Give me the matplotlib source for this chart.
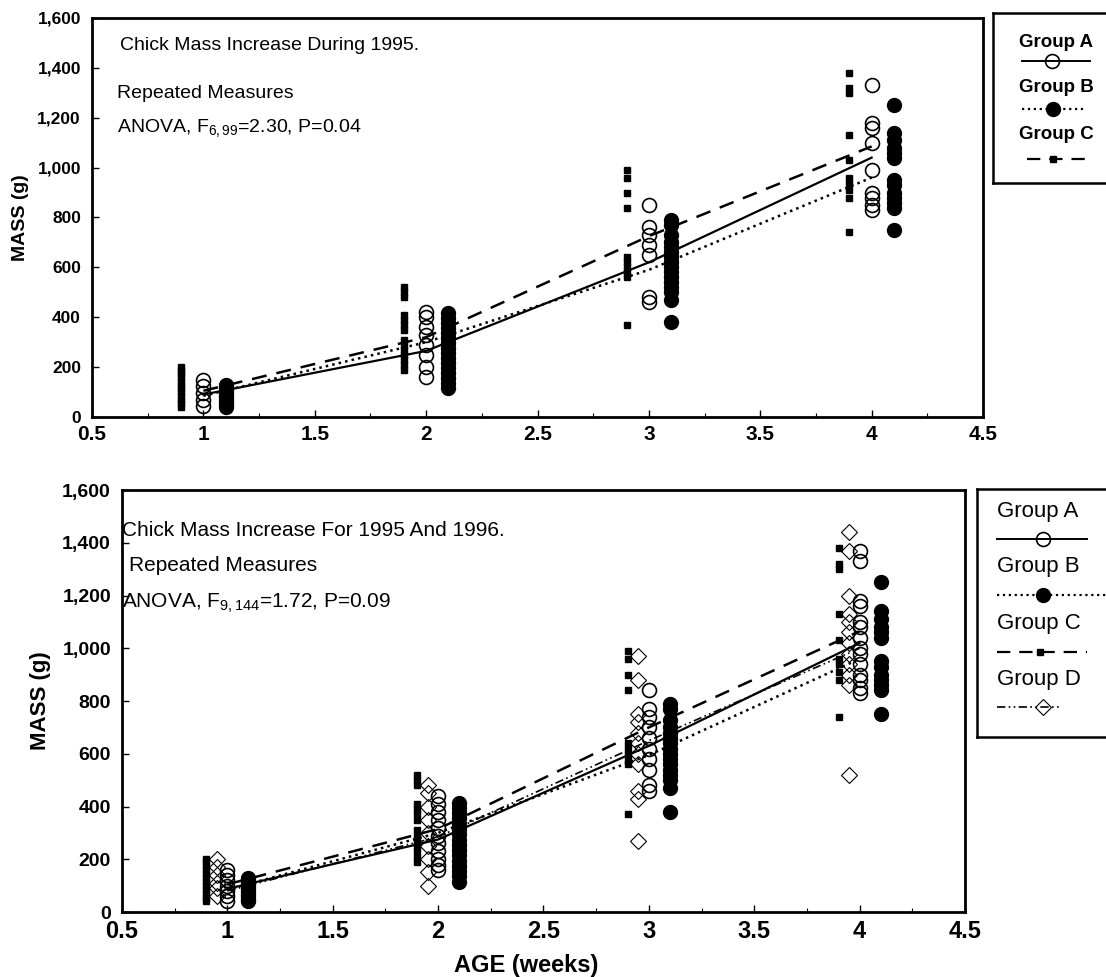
import numpy as np
import matplotlib
matplotlib.use('Agg')
import matplotlib.pyplot as plt
from matplotlib.ticker import MultipleLocator, StrMethodFormatter

plt.rcParams['font.family'] = ['Liberation Sans', 'DejaVu Sans']
plt.rcParams['mathtext.fontset'] = 'custom'
plt.rcParams['mathtext.rm'] = 'Liberation Sans'
plt.rcParams['mathtext.it'] = 'Liberation Sans:italic'
plt.rcParams['mathtext.bf'] = 'Liberation Sans:bold'

# weeks
weeks = [1, 2, 3, 4]

# 1995 data (top)
top_A = [[45, 70, 95, 125, 150],
         [160, 200, 250, 290, 330, 360, 400, 420],
         [460, 480, 650, 690, 730, 760, 850],
         [830, 850, 880, 900, 990, 1100, 1160, 1180, 1330]]
top_B = [[40, 50, 60, 70, 80, 90, 100, 110, 120, 130],
         [115, 135, 155, 175, 195, 215, 235, 255, 275, 295, 315, 335, 355, 375, 395, 415],
         [380, 470, 500, 520, 540, 560, 580, 600, 620, 640, 660, 680, 700, 730, 770, 790],
         [750, 840, 860, 880, 900, 930, 950, 1040, 1060, 1080, 1110, 1140, 1250]]
top_C = [[40, 55, 70, 85, 100, 115, 130, 145, 160, 175, 190, 200],
         [190, 210, 230, 250, 270, 290, 310, 350, 370, 390, 410, 480, 500, 520],
         [370, 560, 580, 600, 620, 640, 840, 900, 960, 990],
         [740, 880, 910, 940, 960, 1030, 1130, 1300, 1320, 1380]]
top_mean_A = [90, 265, 620, 1040]
top_mean_B = [85, 300, 590, 960]
top_mean_C = [105, 320, 725, 1085]

# 1995 + 1996 data (bottom)
bot_A = [[40, 60, 80, 100, 120, 140, 160],
         [160, 180, 200, 230, 260, 290, 320, 350, 380, 410, 440],
         [460, 480, 540, 580, 620, 660, 700, 740, 770, 840],
         [830, 850, 880, 900, 940, 980, 1000, 1040, 1080, 1100, 1160, 1180, 1330, 1370]]
bot_B = top_B
bot_C = top_C
bot_D = [[60, 90, 110, 140, 170, 200],
         [100, 150, 200, 250, 300, 350, 400, 450, 480],
         [270, 430, 460, 560, 600, 640, 680, 720, 750, 880, 970],
         [520, 860, 900, 940, 980, 1020, 1060, 1100, 1130, 1200, 1370, 1440]]
bot_mean_A = [88, 275, 630, 1020]
bot_mean_B = [85, 300, 595, 960]
bot_mean_C = [105, 315, 700, 1065]
bot_mean_D = [80, 285, 650, 1000]

styleA = dict(marker='o', ms=10, mfc='none', mec='black', mew=1.2, ls='none')
styleB = dict(marker='o', ms=10, mfc='black', mec='black', ls='none')
styleC = dict(marker='s', ms=5, mfc='black', mec='black', ls='none')
styleD = dict(marker='D', ms=8, mfc='none', mec='black', mew=0.8, ls='none')
dashC = (0, (6, 4))
dashD = (0, (5, 2, 1, 2, 1, 2))


def scatter_group(ax, data, offset, style):
    for w, vals in zip(weeks, data):
        ax.plot([w + offset] * len(vals), vals, **style)


def style_axes(ax, xsize, ysize):
    ax.set_xlim(0.5, 4.5)
    ax.set_ylim(0, 1600)
    ax.xaxis.set_major_locator(MultipleLocator(0.5))
    ax.xaxis.set_minor_locator(MultipleLocator(0.25))
    ax.yaxis.set_major_locator(MultipleLocator(200))
    ax.yaxis.set_major_formatter(StrMethodFormatter('{x:,.0f}'))
    ax.xaxis.set_major_formatter(StrMethodFormatter('{x:g}'))
    ax.tick_params(which='major', direction='in', length=5, width=1)
    ax.tick_params(which='minor', direction='in', length=3, width=0.8)
    ax.tick_params(axis='x', labelsize=xsize, pad=6)
    ax.tick_params(axis='y', labelsize=ysize, pad=8)
    for lab in ax.get_xticklabels() + ax.get_yticklabels():
        lab.set_fontweight('bold')
    for s in ax.spines.values():
        s.set_linewidth(2)


fig = plt.figure(figsize=(11.06, 9.77), dpi=100)

# ---- top plot ----
ax1 = fig.add_axes([0.0832, 0.5732, 0.8056, 0.4084])
scatter_group(ax1, top_C, -0.1, styleC)
scatter_group(ax1, top_A, 0.0, styleA)
scatter_group(ax1, top_B, 0.1, styleB)
ax1.plot(weeks, top_mean_A, color='black', lw=1.6, ls='-')
ax1.plot(weeks, top_mean_B, color='black', lw=1.8, ls=':')
ax1.plot(weeks, top_mean_C, color='black', lw=1.8, ls=dashC)
style_axes(ax1, 15, 12.5)
ax1.set_ylabel('MASS (g)', fontsize=14, fontweight='bold', labelpad=6)
ax1.text(0.031, 0.93, 'Chick Mass Increase During 1995.', transform=ax1.transAxes,
         fontsize=14, va='center')
ax1.text(0.028, 0.81, 'Repeated Measures', transform=ax1.transAxes, fontsize=14, va='center')
ax1.text(0.028, 0.725, r'ANOVA, F$_{\mathrm{6,99}}$=2.30, P=0.04', transform=ax1.transAxes,
         fontsize=14, va='center')

# ---- bottom plot ----
ax2 = fig.add_axes([0.1103, 0.0665, 0.7622, 0.4319])
scatter_group(ax2, bot_C, -0.1, styleC)
scatter_group(ax2, bot_D, -0.05, styleD)
scatter_group(ax2, bot_A, 0.0, styleA)
scatter_group(ax2, bot_B, 0.1, styleB)
ax2.plot(weeks, bot_mean_A, color='black', lw=1.6, ls='-')
ax2.plot(weeks, bot_mean_B, color='black', lw=1.8, ls=':')
ax2.plot(weeks, bot_mean_C, color='black', lw=1.8, ls=dashC)
ax2.plot(weeks, bot_mean_D, color='black', lw=1.2, ls=dashD)
style_axes(ax2, 17, 14)
ax2.set_ylabel('MASS (g)', fontsize=16, fontweight='bold', labelpad=8)
ax2.set_xlabel('AGE (weeks)', fontsize=17, fontweight='bold', labelpad=2)
ax2.xaxis.set_label_coords(0.48, -0.1)
ax2.text(0.0, 0.905, 'Chick Mass Increase For 1995 And 1996.', transform=ax2.transAxes,
         fontsize=15, va='center')
ax2.text(0.008, 0.822, 'Repeated Measures', transform=ax2.transAxes, fontsize=15, va='center')
ax2.text(0.0, 0.732, r'ANOVA, F$_{\mathrm{9,144}}$=1.72, P=0.09', transform=ax2.transAxes,
         fontsize=15, va='center')


# ---- legend boxes (pixel coordinates inside the box) ----
def legend_box(rect, xlim, ylim, tx, entries, fsize, weight):
    lg = fig.add_axes(rect)
    lg.set_xlim(*xlim)
    lg.set_ylim(*ylim)
    lg.set_xticks([])
    lg.set_yticks([])
    for s in lg.spines.values():
        s.set_linewidth(1.8)
    for label, ty, ly, x0, x1, xm, ls, lw, mstyle in entries:
        lg.text(tx, ty, label, ha='left', va='center', fontsize=fsize, fontweight=weight)
        lg.plot([x0, x1], [ly, ly], color='black', ls=ls, lw=lw)
        st = dict(mstyle)
        st.pop('ls')
        lg.plot([xm], [ly], ls='none', **st)


legend_box([0.8978, 0.8127, 0.15, 0.174], (993, 1159), (183, 13), 1019,
           [('Group A', 43, 61, 1022, 1090, 1052, '-', 1.4, styleA),
            ('Group B', 88, 109, 1022, 1083, 1053, ':', 1.6, styleB),
            ('Group C', 135, 159, 1027, 1090, 1053, dashC, 1.6, dict(styleC, ms=4))],
           13.5, 'bold')

legend_box([0.8834, 0.2457, 0.15, 0.2538], (977, 1143), (740, 492), 997,
           [('Group A', 515, 542, 997, 1087, 1043, '-', 1.4, styleA),
            ('Group B', 570, 598, 997, 1110, 1043, ':', 1.6, styleB),
            ('Group C', 627, 655, 997, 1087, 1040, dashC, 1.6, dict(styleC, ms=4)),
            ('Group D', 683, 710, 997, 1060, 1043, dashD, 1.2, styleD)],
           16, 'normal')

plt.savefig('out.png', dpi=100)
plt.close()
